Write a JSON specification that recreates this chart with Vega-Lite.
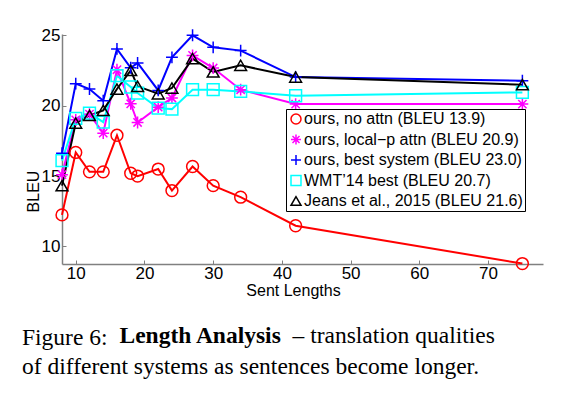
{
  "$schema": "https://vega.github.io/schema/vega-lite/v6.json",
  "width": 481,
  "height": 230,
  "autosize": {"type": "none"},
  "padding": {"left": 62, "top": 34, "right": 19, "bottom": 134},
  "background": "white",
  "config": {
    "view": {"stroke": null},
    "axis": {
      "grid": false,
      "domainColor": "#808080",
      "domainWidth": 1.5,
      "tickColor": "#808080",
      "tickWidth": 1,
      "tickSize": -4,
      "labelFont": "Liberation Sans",
      "labelFontSize": 17,
      "labelColor": "black",
      "titleFont": "Liberation Sans",
      "titleFontSize": 16,
      "titleFontWeight": "normal",
      "titleColor": "black"
    }
  },
  "title": {
    "text": "Figure 6:",
    "subtitle": "of different systems as sentences become longer.",
    "orient": "bottom",
    "anchor": "start",
    "frame": "group",
    "dx": -40,
    "offset": -21,
    "font": "Liberation Serif",
    "fontSize": 23.5,
    "fontWeight": "normal",
    "color": "black",
    "subtitleFont": "Liberation Serif",
    "subtitleFontSize": 23.5,
    "subtitleColor": "black",
    "subtitlePadding": 6
  },
  "data": {
    "values": [
      {"len": 8, "bleu": 12.24, "s": "ours, no attn (BLEU 13.9)"},
      {"len": 10, "bleu": 16.68, "s": "ours, no attn (BLEU 13.9)"},
      {"len": 12, "bleu": 15.3, "s": "ours, no attn (BLEU 13.9)"},
      {"len": 14, "bleu": 15.3, "s": "ours, no attn (BLEU 13.9)"},
      {"len": 16, "bleu": 17.9, "s": "ours, no attn (BLEU 13.9)"},
      {"len": 18, "bleu": 15.2, "s": "ours, no attn (BLEU 13.9)"},
      {"len": 19, "bleu": 15.0, "s": "ours, no attn (BLEU 13.9)"},
      {"len": 22, "bleu": 15.5, "s": "ours, no attn (BLEU 13.9)"},
      {"len": 24, "bleu": 13.97, "s": "ours, no attn (BLEU 13.9)"},
      {"len": 27, "bleu": 15.68, "s": "ours, no attn (BLEU 13.9)"},
      {"len": 30, "bleu": 14.32, "s": "ours, no attn (BLEU 13.9)"},
      {"len": 34, "bleu": 13.5, "s": "ours, no attn (BLEU 13.9)"},
      {"len": 42, "bleu": 11.47, "s": "ours, no attn (BLEU 13.9)"},
      {"len": 75, "bleu": 8.78, "s": "ours, no attn (BLEU 13.9)"},
      {"len": 8, "bleu": 15.1, "s": "ours, local−p attn (BLEU 20.9)"},
      {"len": 10, "bleu": 19.0, "s": "ours, local−p attn (BLEU 20.9)"},
      {"len": 12, "bleu": 19.4, "s": "ours, local−p attn (BLEU 20.9)"},
      {"len": 14, "bleu": 18.05, "s": "ours, local−p attn (BLEU 20.9)"},
      {"len": 16, "bleu": 22.56, "s": "ours, local−p attn (BLEU 20.9)"},
      {"len": 18, "bleu": 20.14, "s": "ours, local−p attn (BLEU 20.9)"},
      {"len": 19, "bleu": 18.81, "s": "ours, local−p attn (BLEU 20.9)"},
      {"len": 22, "bleu": 19.9, "s": "ours, local−p attn (BLEU 20.9)"},
      {"len": 24, "bleu": 20.55, "s": "ours, local−p attn (BLEU 20.9)"},
      {"len": 27, "bleu": 23.58, "s": "ours, local−p attn (BLEU 20.9)"},
      {"len": 30, "bleu": 22.68, "s": "ours, local−p attn (BLEU 20.9)"},
      {"len": 34, "bleu": 21.14, "s": "ours, local−p attn (BLEU 20.9)"},
      {"len": 42, "bleu": 20.12, "s": "ours, local−p attn (BLEU 20.9)"},
      {"len": 75, "bleu": 20.12, "s": "ours, local−p attn (BLEU 20.9)"},
      {"len": 8, "bleu": 16.63, "s": "ours, best system (BLEU 23.0)"},
      {"len": 10, "bleu": 21.57, "s": "ours, best system (BLEU 23.0)"},
      {"len": 12, "bleu": 21.19, "s": "ours, best system (BLEU 23.0)"},
      {"len": 14, "bleu": 20.36, "s": "ours, best system (BLEU 23.0)"},
      {"len": 16, "bleu": 24.04, "s": "ours, best system (BLEU 23.0)"},
      {"len": 18, "bleu": 22.7, "s": "ours, best system (BLEU 23.0)"},
      {"len": 19, "bleu": 23.04, "s": "ours, best system (BLEU 23.0)"},
      {"len": 22, "bleu": 21.09, "s": "ours, best system (BLEU 23.0)"},
      {"len": 24, "bleu": 23.44, "s": "ours, best system (BLEU 23.0)"},
      {"len": 27, "bleu": 25.01, "s": "ours, best system (BLEU 23.0)"},
      {"len": 30, "bleu": 24.15, "s": "ours, best system (BLEU 23.0)"},
      {"len": 34, "bleu": 23.92, "s": "ours, best system (BLEU 23.0)"},
      {"len": 42, "bleu": 22.04, "s": "ours, best system (BLEU 23.0)"},
      {"len": 75, "bleu": 21.78, "s": "ours, best system (BLEU 23.0)"},
      {"len": 8, "bleu": 16.1, "s": "WMT’14 best (BLEU 20.7)"},
      {"len": 10, "bleu": 19.1, "s": "WMT’14 best (BLEU 20.7)"},
      {"len": 12, "bleu": 19.48, "s": "WMT’14 best (BLEU 20.7)"},
      {"len": 14, "bleu": 18.84, "s": "WMT’14 best (BLEU 20.7)"},
      {"len": 16, "bleu": 22.14, "s": "WMT’14 best (BLEU 20.7)"},
      {"len": 18, "bleu": 21.33, "s": "WMT’14 best (BLEU 20.7)"},
      {"len": 19, "bleu": 20.9, "s": "WMT’14 best (BLEU 20.7)"},
      {"len": 22, "bleu": 19.83, "s": "WMT’14 best (BLEU 20.7)"},
      {"len": 24, "bleu": 19.76, "s": "WMT’14 best (BLEU 20.7)"},
      {"len": 27, "bleu": 21.14, "s": "WMT’14 best (BLEU 20.7)"},
      {"len": 30, "bleu": 21.14, "s": "WMT’14 best (BLEU 20.7)"},
      {"len": 34, "bleu": 21.02, "s": "WMT’14 best (BLEU 20.7)"},
      {"len": 42, "bleu": 20.71, "s": "WMT’14 best (BLEU 20.7)"},
      {"len": 75, "bleu": 20.95, "s": "WMT’14 best (BLEU 20.7)"},
      {"len": 8, "bleu": 14.32, "s": "Jeans et al., 2015 (BLEU 21.6)"},
      {"len": 10, "bleu": 18.77, "s": "Jeans et al., 2015 (BLEU 21.6)"},
      {"len": 12, "bleu": 19.31, "s": "Jeans et al., 2015 (BLEU 21.6)"},
      {"len": 14, "bleu": 19.67, "s": "Jeans et al., 2015 (BLEU 21.6)"},
      {"len": 16, "bleu": 21.19, "s": "Jeans et al., 2015 (BLEU 21.6)"},
      {"len": 18, "bleu": 22.51, "s": "Jeans et al., 2015 (BLEU 21.6)"},
      {"len": 19, "bleu": 21.38, "s": "Jeans et al., 2015 (BLEU 21.6)"},
      {"len": 22, "bleu": 20.85, "s": "Jeans et al., 2015 (BLEU 21.6)"},
      {"len": 24, "bleu": 21.26, "s": "Jeans et al., 2015 (BLEU 21.6)"},
      {"len": 27, "bleu": 23.35, "s": "Jeans et al., 2015 (BLEU 21.6)"},
      {"len": 30, "bleu": 22.4, "s": "Jeans et al., 2015 (BLEU 21.6)"},
      {"len": 34, "bleu": 22.87, "s": "Jeans et al., 2015 (BLEU 21.6)"},
      {"len": 42, "bleu": 22.04, "s": "Jeans et al., 2015 (BLEU 21.6)"},
      {"len": 75, "bleu": 21.5, "s": "Jeans et al., 2015 (BLEU 21.6)"}
    ]
  },
  "layer": [
    {
      "mark": {"type": "line", "strokeWidth": 2},
      "encoding": {
        "x": {
          "field": "len", "type": "quantitative",
          "scale": {"domain": [8, 78], "nice": false, "zero": false},
          "axis": {"values": [10, 20, 30, 40, 50, 60, 70], "title": "Sent Lengths", "labelPadding": 5, "titleX": 231, "titleY": 31, "titleAlign": "center", "titleBaseline": "alphabetic"}
        },
        "y": {
          "field": "bleu", "type": "quantitative",
          "scale": {"domain": [8.75, 25.1], "nice": false, "zero": false},
          "axis": {"values": [10, 15, 20, 25], "title": "BLEU", "labelPadding": 6, "titleX": -29, "titleY": 157, "titleAngle": -90, "titleAlign": "center", "titleBaseline": "middle"}
        },
        "color": {
          "field": "s", "type": "nominal",
          "scale": {
            "domain": ["ours, no attn (BLEU 13.9)", "ours, local−p attn (BLEU 20.9)", "ours, best system (BLEU 23.0)", "WMT’14 best (BLEU 20.7)", "Jeans et al., 2015 (BLEU 21.6)"],
            "range": ["#ff0000", "#ff00ff", "#0000ff", "#00ffff", "#000000"]
          },
          "legend": {
            "orient": "none", "legendX": 224, "legendY": 75, "title": null,
            "strokeColor": "black", "fillColor": "white", "padding": 2,
            "labelFont": "Liberation Sans", "labelFontSize": 16, "labelColor": "black",
            "labelOffset": 0, "rowPadding": 4.5, "symbolSize": 100, "symbolStrokeWidth": 1.5,
            "labelLimit": 400
          }
        }
      }
    },
    {
      "mark": {"type": "point", "filled": false, "strokeWidth": 1.5, "opacity": 1, "size": 140},
      "encoding": {
        "x": {
          "field": "len", "type": "quantitative",
          "scale": {"domain": [8, 78], "nice": false, "zero": false},
          "axis": {"orient": "top", "labels": false, "ticks": false, "domain": false, "title": "Length Analysis", "titleFont": "Liberation Serif", "titleFontSize": 23.5, "titleFontWeight": "bold", "titleX": 57, "titleY": 308, "titleAlign": "left", "titleBaseline": "alphabetic", "titleAngle": 0}
        },
        "y": {
          "field": "bleu", "type": "quantitative",
          "scale": {"domain": [8.75, 25.1], "nice": false, "zero": false},
          "axis": {"orient": "right", "labels": false, "ticks": false, "domain": false, "title": "– translation qualities", "titleFont": "Liberation Serif", "titleFontSize": 23.5, "titleFontWeight": "normal", "titleX": -251, "titleY": 308, "titleAlign": "left", "titleBaseline": "alphabetic", "titleAngle": 0}
        },
        "color": {
          "field": "s", "type": "nominal",
          "scale": {
            "domain": ["ours, no attn (BLEU 13.9)", "ours, local−p attn (BLEU 20.9)", "ours, best system (BLEU 23.0)", "WMT’14 best (BLEU 20.7)", "Jeans et al., 2015 (BLEU 21.6)"],
            "range": ["#ff0000", "#ff00ff", "#0000ff", "#00ffff", "#000000"]
          },
          "legend": {
            "orient": "none", "legendX": 224, "legendY": 75, "title": null,
            "strokeColor": "black", "fillColor": "white", "padding": 2,
            "labelFont": "Liberation Sans", "labelFontSize": 16, "labelColor": "black",
            "labelOffset": 0, "rowPadding": 4.5, "symbolSize": 100, "symbolStrokeWidth": 1.5,
            "labelLimit": 400
          }
        },
        "shape": {
          "field": "s", "type": "nominal",
          "scale": {
            "domain": ["ours, no attn (BLEU 13.9)", "ours, local−p attn (BLEU 20.9)", "ours, best system (BLEU 23.0)", "WMT’14 best (BLEU 20.7)", "Jeans et al., 2015 (BLEU 21.6)"],
            "range": ["circle", "M-1,0L1,0M0,-1L0,1M-0.7,-0.7L0.7,0.7M-0.7,0.7L0.7,-0.7", "M-1,0L1,0M0,-1L0,1", "square", "triangle-up"]
          },
          "legend": {
            "orient": "none", "legendX": 224, "legendY": 75, "title": null,
            "strokeColor": "black", "fillColor": "white", "padding": 2,
            "labelFont": "Liberation Sans", "labelFontSize": 16, "labelColor": "black",
            "labelOffset": 0, "rowPadding": 4.5, "symbolSize": 100, "symbolStrokeWidth": 1.5,
            "labelLimit": 400
          }
        }
      }
    }
  ],
  "resolve": {"scale": {"x": "independent", "y": "independent"}}
}
